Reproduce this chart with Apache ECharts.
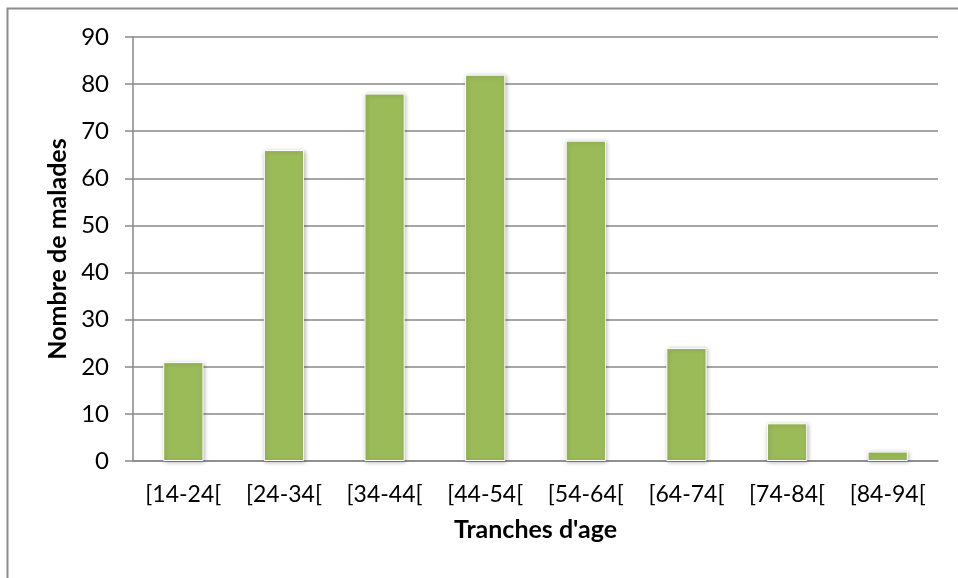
<!DOCTYPE html>
<html>
<head>
<meta charset="utf-8">
<script src="https://cdn.jsdelivr.net/npm/echarts@6/dist/echarts.min.js"></script>
<style>
  html, body { margin: 0; padding: 0; background: #fff; }
  #chart { width: 958px; height: 578px; }
</style>
</head>
<body>
<div id="chart"></div>
<script>
// Age groups and number of patients in each
const ageGroups = ['[14-24[', '[24-34[', '[34-44[', '[44-54[', '[54-64[', '[64-74[', '[74-84[', '[84-94['];
const patientCounts = [21, 66, 78, 82, 68, 24, 8, 2];
const yAxisTitle = 'Nombre de malades';
const xAxisTitle = "Tranches d'age";

const FONT = 'Lato, "Open Sans", sans-serif';
const GRID_COLOR = '#898989';

const chart = echarts.init(document.getElementById('chart'), null, { renderer: 'canvas' });

chart.setOption({
  backgroundColor: '#ffffff',
  animation: false,
  graphic: [
    // frame on the top and left edges
    {
      type: 'polyline',
      silent: true,
      shape: { points: [[7.5, 578], [7.5, 8.5], [958, 8.5]] },
      style: { stroke: '#8c8c8c', lineWidth: 2, fill: null }
    }
  ],
  grid: { left: 133, right: 20, top: 37, bottom: 117, containLabel: false },
  xAxis: {
    type: 'category',
    data: ageGroups,
    name: xAxisTitle,
    nameLocation: 'middle',
    nameGap: 56,
    nameTextStyle: { fontFamily: FONT, fontWeight: 'bold', fontSize: 25, color: '#000' },
    axisLine: { lineStyle: { color: GRID_COLOR, width: 1.5 } },
    axisTick: { show: false },
    axisLabel: { fontFamily: FONT, fontSize: 23, color: '#000', margin: 22, interval: 0 }
  },
  yAxis: {
    type: 'value',
    min: 0,
    max: 90,
    interval: 10,
    name: yAxisTitle,
    nameLocation: 'middle',
    nameGap: 62,
    nameRotate: 90,
    nameTextStyle: { fontFamily: FONT, fontWeight: 'bold', fontSize: 25, color: '#000' },
    axisLine: { show: true, lineStyle: { color: GRID_COLOR, width: 1.5 } },
    axisTick: { show: true, inside: false, length: 8, lineStyle: { color: GRID_COLOR, width: 1.5 } },
    axisLabel: { fontFamily: FONT, fontSize: 24, color: '#000', margin: 24 },
    splitLine: { show: true, lineStyle: { color: GRID_COLOR, width: 1.5 } }
  },
  series: [{
    type: 'bar',
    data: patientCounts,
    barWidth: '40%',
    itemStyle: {
      color: '#9BBB59',
      borderColor: '#ffffff',
      borderWidth: 1,
      shadowColor: 'rgba(0,0,0,0.28)',
      shadowBlur: 4,
      shadowOffsetX: 1,
      shadowOffsetY: 1
    }
  }]
});
</script>
</body>
</html>
